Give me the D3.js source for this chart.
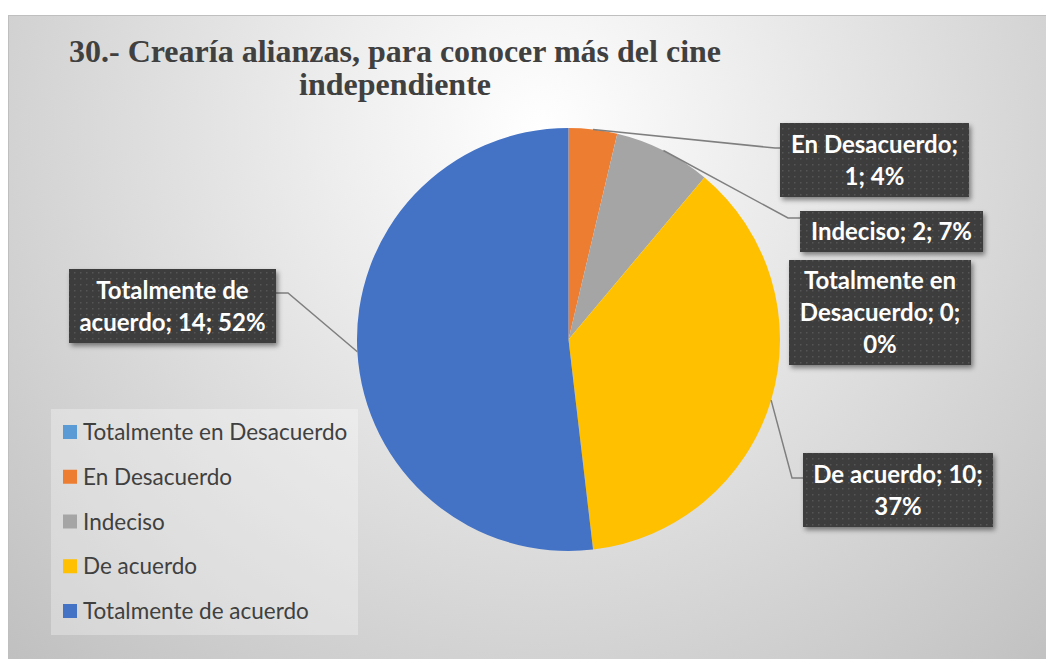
<!DOCTYPE html>
<html>
<head>
<meta charset="utf-8">
<script src="https://cdn.jsdelivr.net/npm/d3@7"></script>
<style>
	html, body { margin: 0; padding: 0; background: #fff; }
	svg { display: block; }
</style>
</head>
<body>
<svg id="chart" width="1046" height="659"></svg>
<script>
// chart data
var categories = ["Totalmente en Desacuerdo", "En Desacuerdo", "Indeciso", "De acuerdo", "Totalmente de acuerdo"];
var counts = [0, 1, 2, 10, 14];
var colors = ["#5b9bd5", "#ed7d31", "#a5a5a5", "#ffc000", "#4472c4"];
var titleLines = ["30.- Crearía alianzas, para conocer más del cine", "independiente"];

document.addEventListener("DOMContentLoaded", init)

function init() {
	var W = 1046, H = 659;
	var svg = d3.select("#chart");
	var defs = svg.append("defs");

	// background gradient (white-ish top centre, grey at the edges)
	var bg = defs.append("radialGradient")
	             .attr("id", "bg")
	             .attr("gradientUnits", "userSpaceOnUse")
	             .attr("cx", 540).attr("cy", 130).attr("r", 760);
	bg.append("stop").attr("offset", 0).attr("stop-color", "#ffffff");
	bg.append("stop").attr("offset", 1).attr("stop-color", "#bfbfbf");

	// dotted dark texture for the data labels
	var pat = defs.append("pattern")
	              .attr("id", "dots")
	              .attr("patternUnits", "userSpaceOnUse")
	              .attr("width", 6).attr("height", 6);
	pat.append("rect").attr("width", 6).attr("height", 6).attr("fill", "#3c3c3c");
	pat.append("rect").attr("x", 2).attr("y", 2).attr("width", 1.5).attr("height", 1.5).attr("fill", "#555");

	var shadow = defs.append("filter")
	                 .attr("id", "shadow")
	                 .attr("x", "-20%").attr("y", "-20%")
	                 .attr("width", "140%").attr("height", "150%");
	shadow.append("feDropShadow")
	      .attr("dx", 2).attr("dy", 3)
	      .attr("stdDeviation", 2.5)
	      .attr("flood-color", "#000")
	      .attr("flood-opacity", 0.45);

	svg.append("rect")
	   .attr("x", 8.5).attr("y", 15.5)
	   .attr("width", W).attr("height", H)
	   .attr("fill", "url(#bg)")
	   .attr("stroke", "#bfbfbf");

	// title
	svg.append("text")
	   .attr("x", 395)
	   .attr("text-anchor", "middle")
	   .style("font-family", "'Liberation Serif', 'Times New Roman', serif")
	   .style("font-weight", "bold")
	   .style("font-size", "32px")
	   .attr("fill", "#404040")
	   .selectAll("tspan")
	   .data(titleLines)
	   .enter()
	   .append("tspan")
	   .attr("x", 395)
	   .attr("y", (d, i) => 62 + i * 33)
	   .text(d => d);

	// pie
	var cx = 568.5, cy = 339.5, r = 211.5;
	var total = d3.sum(counts);
	var rows = categories.map((c, i) => ({name: c, value: counts[i], color: colors[i], idx: i}));
	var pie = d3.pie().sort(null).value(d => d.value);
	var arcs = pie(rows);
	var arc = d3.arc().innerRadius(0).outerRadius(r);
	var edge = d3.arc().innerRadius(r).outerRadius(r);

	var g = svg.append("g").attr("transform", `translate(${cx},${cy})`);
	g.selectAll(".slice")
	 .data(arcs)
	 .enter()
	 .append("path")
	 .classed("slice", true)
	 .attr("d", arc)
	 .attr("fill", d => d.data.color);

	// data label boxes (placement as in the original)
	var boxes = [
		{x: 789, y: 260, w: 182, h: 105, wrap: 172, elbow: null},
		{x: 780, y: 123, w: 189, h: 74, wrap: 180, elbow: [775, 148]},
		{x: 800, y: 211, w: 183, h: 41, wrap: 180, elbow: [788, 218]},
		{x: 803, y: 453, w: 190, h: 74, wrap: 186, elbow: [792, 478]},
		{x: 69, y: 269, w: 207, h: 74, wrap: 202, elbow: [288, 293], left: true}
	];
	var pct = v => Math.round(v / total * 100) + "%";

	// leader lines
	svg.append("g")
	   .selectAll("path")
	   .data(arcs.filter(d => boxes[d.data.idx].elbow))
	   .enter()
	   .append("path")
	   .attr("fill", "none")
	   .attr("stroke", "#7f7f7f")
	   .attr("stroke-width", 1.5)
	   .attr("d", d => {
	   	   var b = boxes[d.data.idx];
	   	   var p = edge.centroid(d);
	   	   var endX = b.left ? b.x + b.w : b.x;
	   	   return d3.line()([[cx + p[0], cy + p[1]], b.elbow, [endX, b.elbow[1]]]);
	   });

	var labels = svg.append("g")
	                .selectAll(".dlabel")
	                .data(arcs)
	                .enter()
	                .append("g")
	                .classed("dlabel", true);

	labels.append("rect")
	      .attr("x", d => boxes[d.data.idx].x)
	      .attr("y", d => boxes[d.data.idx].y)
	      .attr("width", d => boxes[d.data.idx].w)
	      .attr("height", d => boxes[d.data.idx].h)
	      .attr("fill", "url(#dots)")
	      .attr("filter", "url(#shadow)");

	labels.each(function(d) {
		var b = boxes[d.data.idx];
		var words = (d.data.name + "; " + d.data.value + "; " + pct(d.data.value)).split(" ");
		var t = d3.select(this)
		          .append("text")
		          .attr("text-anchor", "middle")
		          .attr("fill", "#fff")
		          .style("font-family", "Lato, 'Open Sans', sans-serif")
		          .style("font-weight", "bold")
		          .style("font-size", "24px");
		// greedy wrap to the box width
		var lines = [], cur = [];
		var probe = t.append("tspan");
		words.forEach(w => {
			probe.text(cur.concat([w]).join(" "));
			if (cur.length && probe.node().getComputedTextLength() > b.wrap) {
				lines.push(cur.join(" "));
				cur = [w];
			} else {
				cur.push(w);
			}
		});
		lines.push(cur.join(" "));
		probe.remove();
		var mid = b.y + b.h / 2;
		t.selectAll("tspan")
		 .data(lines)
		 .enter()
		 .append("tspan")
		 .attr("x", b.x + b.w / 2)
		 .attr("y", (s, i) => mid + (i - (lines.length - 1) / 2) * 32 + 8.5)
		 .text(s => s);
	});

	// legend
	var legend = svg.append("g");
	legend.append("rect")
	      .attr("x", 51).attr("y", 409)
	      .attr("width", 307).attr("height", 226)
	      .attr("fill", "#fff")
	      .attr("fill-opacity", 0.3);
	var ly = d3.scalePoint()
	           .domain(categories)
	           .range([432, 611]);
	var items = legend.selectAll(".item")
	                  .data(rows)
	                  .enter()
	                  .append("g")
	                  .classed("item", true)
	                  .attr("transform", d => `translate(63,${ly(d.name)})`);
	items.append("rect")
	     .attr("x", 0).attr("y", -7)
	     .attr("width", 14).attr("height", 14)
	     .attr("fill", d => d.color);
	items.append("text")
	     .attr("x", 20)
	     .attr("y", 8)
	     .attr("fill", "#404040")
	     .style("font-family", "Lato, 'Open Sans', sans-serif")
	     .style("font-size", "22.5px")
	     .text(d => d.name);
}
</script>
</body>
</html>
